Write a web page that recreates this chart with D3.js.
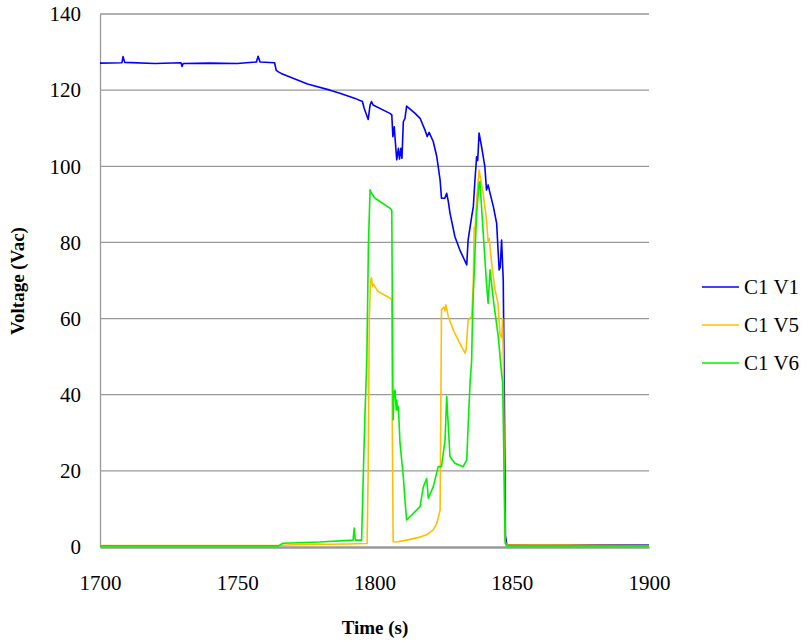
<!DOCTYPE html>
<html><head><meta charset="utf-8">
<script src="https://cdn.jsdelivr.net/npm/d3@7"></script>
<style>body{margin:0;background:#fff}</style>
</head><body>
<script>
const yTicks = [0,20,40,60,80,100,120,140];
const xTicks = [1700,1750,1800,1850,1900];
const seriesNames = ["C1 V1","C1 V5","C1 V6"];
const seriesColors = ["#0000FF","#FFBF00","#00F000"];

const v1Time = [1700,1708,1708.4,1709,1720,1729.5,1729.9,1730.3,1740,1750,1757,1757.6,1758.3,1763.6,1764.2,1765,1766,1775.6,1783.8,1787.4,1792.7,1795.6,1796.2,1797.7,1798.4,1798.9,1799.5,1805.6,1806.3,1806.7,1807.2,1807.5,1808.1,1808.7,1809.1,1809.6,1810.0,1810.5,1811.1,1811.7,1814.8,1816.6,1818.4,1819.2,1819.9,1821.4,1822.7,1823.9,1824.4,1825.6,1826.3,1826.9,1827.5,1829.3,1831.1,1833.6,1834.1,1835.4,1836.0,1836.6,1837.2,1837.6,1838.1,1839.0,1840.2,1840.8,1841.4,1842.1,1843.3,1844.5,1845.4,1845.8,1846.3,1846.9,1847.3,1847.7,1848.2,1860,1880,1900];
const v1Value = [127.1,127.2,128.8,127.3,127.0,127.2,126.2,127.0,127.1,127.0,127.4,128.9,127.4,127.2,125.2,124.8,124.4,121.6,120.0,119.2,117.9,117.0,115.3,112.3,116.1,117.0,116.1,113.9,113.5,107.8,110.4,107.3,101.7,104.7,101.9,104.7,102.1,111.7,112.6,115.8,113.9,112.6,109.5,107.8,108.9,106.5,102.5,96.4,91.6,91.6,92.9,90.7,87.7,81.5,78.0,74.1,80.6,86.8,89.4,96.4,102.5,101.5,108.7,105.2,99.9,93.8,95.1,92.9,89.4,85.0,72.8,73.5,80.6,70.1,40,3,0.6,0.5,0.6,0.5];

const v5Time = [1700,1765,1770,1790,1797.3,1797.7,1798.1,1798.6,1798.9,1799.3,1799.7,1801.3,1805.6,1806.3,1806.5,1806.8,1808,1811.7,1816.6,1819,1821.4,1822.7,1823.9,1824.2,1824.4,1825.3,1825.7,1826.0,1826.9,1828.7,1831.1,1833.0,1833.4,1834.1,1835.4,1836.0,1836.3,1836.6,1837.2,1838.1,1839.6,1840.8,1841.4,1841.8,1842.6,1843.8,1845.0,1845.7,1846.3,1846.7,1846.9,1847.5,1848,1870,1900];
const v5Value = [0.4,0.4,0.6,0.8,0.9,20,60,70.1,70.7,68.5,69.0,67.1,65.4,64.9,30,1.4,1.3,1.8,2.6,3.2,4.5,6.2,9.7,40,62.3,63.0,62.0,63.6,60.5,57.0,53.5,50.9,52,59.6,60.5,69.3,84.0,83.3,91.1,99.0,92.9,85.9,80.1,81.0,75.0,68.0,64.0,56.0,55.0,60.0,50.0,2,0.5,0.5,0.4];

const v6Time = [1700,1765,1766.7,1780,1792.2,1792.6,1793.0,1795.3,1795.9,1796.5,1797.2,1797.8,1798.4,1798.9,1800.2,1805.6,1806.3,1806.6,1806.8,1807.1,1807.5,1807.9,1808.1,1808.4,1808.7,1809.3,1810.5,1811.1,1811.7,1816.6,1817.8,1819.0,1819.6,1821.4,1823.2,1824.4,1825.7,1826.3,1826.9,1827.5,1829.3,1832.3,1833.6,1834.1,1834.8,1835.4,1835.6,1836.0,1836.6,1837.2,1838.1,1838.4,1839.6,1840.8,1841.4,1842.1,1843.3,1845.1,1846.3,1846.7,1847.2,1847.6,1848.2,1870,1900];
const v6Value = [0.3,0.3,1.0,1.3,1.8,5.0,1.8,1.8,18.5,34.2,49.0,80.0,93.8,92.9,91.6,89.0,88.5,50,33.4,40.4,41.2,36.0,38.6,36.0,36.9,27.2,18.5,12.3,7.1,10.6,15.8,18.0,12.8,15.8,21.1,21.1,28.1,39.6,31.6,23.7,22.0,21.1,22.9,31.6,43.0,49.1,57.0,66.6,77.1,87.6,95.5,96.0,82.5,69.3,64.0,72.8,64.9,55.2,45.6,43.0,20,1.0,0.3,0.3,0.3];

const W = 810, H = 643;
const FONT = "'Liberation Serif','Times New Roman',serif";
const svg = d3.select("body").append("svg").attr("width", W).attr("height", H)
  .style("font-family", FONT);

const x = d3.scaleLinear().domain([1700,1900]).range([100,649]);
const y = d3.scaleLinear().domain([0,140]).range([547,14]);

// gridlines
svg.append("g").selectAll("line").data(yTicks.filter(d => d > 0)).join("line")
  .attr("x1", x(1700)).attr("x2", x(1900))
  .attr("y1", d => y(d)).attr("y2", d => y(d))
  .attr("stroke", "#999").attr("stroke-width", 1.3);

// axes
const yAxis = svg.append("g").attr("transform", `translate(${x(1700)},0)`)
  .call(d3.axisLeft(y).tickValues(yTicks).tickSize(0).tickPadding(19))
  .attr("font-family", FONT);
yAxis.select(".domain").attr("stroke", "#999").attr("stroke-width", 1.3);
yAxis.selectAll("text").attr("font-size", 21).attr("fill", "#000");

const xAxis = svg.append("g").attr("transform", `translate(0,${y(0)})`)
  .call(d3.axisBottom(x).tickValues(xTicks).tickFormat(d3.format("d")).tickSize(0).tickPadding(28))
  .attr("font-family", FONT);
xAxis.select(".domain").attr("stroke", "#999").attr("stroke-width", 2.5);
xAxis.selectAll("text").attr("font-size", 21).attr("fill", "#000");

// lines
const series = [
  {name: seriesNames[0], color: seriesColors[0], t: v1Time, v: v1Value},
  {name: seriesNames[1], color: seriesColors[1], t: v5Time, v: v5Value},
  {name: seriesNames[2], color: seriesColors[2], t: v6Time, v: v6Value}
];
const line = d3.line().x(d => x(d[0])).y(d => y(d[1]));
series.forEach(s => {
  const pts = s.t.map((t, i) => [t, s.v[i]]);
  svg.append("path").datum(pts).attr("d", line)
    .attr("fill", "none").attr("stroke", s.color).attr("stroke-width", 1.6)
    .attr("stroke-linejoin", "round");
});

// axis titles
svg.append("text").attr("x", 375).attr("y", 634).attr("text-anchor", "middle")
  .attr("font-size", 19).attr("font-weight", "bold").text("Time (s)");
svg.append("text").attr("transform", "translate(24,281) rotate(-90)")
  .attr("text-anchor", "middle").attr("font-size", 19).attr("font-weight", "bold").text("Voltage (Vac)");

// legend
const leg = svg.append("g");
series.forEach((s, i) => {
  const ly = 287 + i * 38;
  leg.append("line").attr("x1", 702).attr("x2", 739).attr("y1", ly).attr("y2", ly)
    .attr("stroke", s.color).attr("stroke-width", 1.6);
  leg.append("text").attr("x", 744).attr("y", ly + 7).attr("font-size", 21).text(s.name);
});
</script>
</body></html>
